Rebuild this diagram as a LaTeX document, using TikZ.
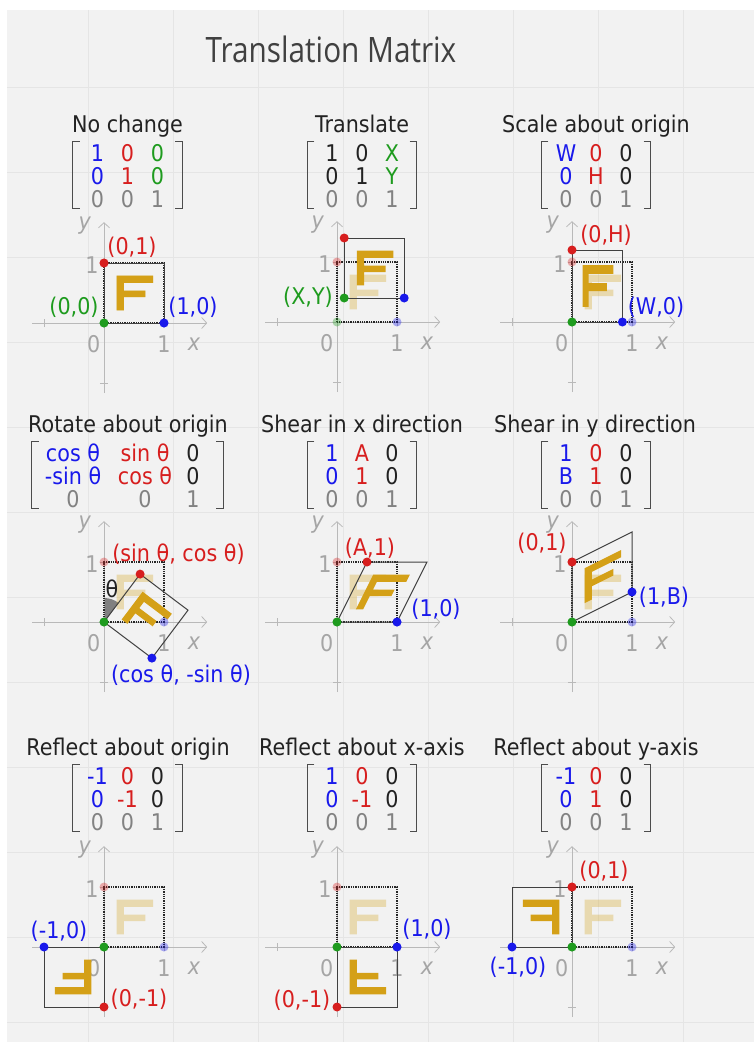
\documentclass[tikz,border=0pt]{standalone}
\usepackage{fontspec}
\setmainfont{DejaVu Sans}[FakeStretch=0.9]
\newfontfamily\headfont{Open Sans}[FakeStretch=0.85]
\usetikzlibrary{matrix,arrows.meta}

\definecolor{BgGray}{RGB}{242,242,242}
\definecolor{GridGray}{RGB}{229,229,229}
\definecolor{AxisGray}{RGB}{185,185,185}
\definecolor{LabelGray}{RGB}{165,165,165}
\definecolor{EntryGray}{RGB}{130,130,130}
\definecolor{InkBlack}{RGB}{34,34,34}
\definecolor{PtRed}{RGB}{215,30,30}
\definecolor{PtGreen}{RGB}{30,155,30}
\definecolor{PtBlue}{RGB}{25,25,235}
\definecolor{FGold}{RGB}{212,160,23}

\newcommand{\panelfont}{\fontsize{23}{27}\selectfont}

\tikzset{
  gridline/.style={draw=GridGray, line width=0.8pt},
  axisline/.style={draw=AxisGray, line width=0.8pt},
  axistip/.style={-{Straight Barb[length=5pt,width=11pt]}},
  axlabel/.style={text=LabelGray, font=\panelfont, inner sep=0pt},
  paneltitle/.style={text=InkBlack, font=\panelfont, anchor=base, inner sep=0pt},
  coordlabel/.style={font=\panelfont, inner sep=0pt},
  origsq/.style={draw=black!85, line width=1.3pt, densely dotted},
  newsq/.style={draw=black!75, line width=1pt},
  bracket/.style={draw=black!70, line width=1pt},
  tmatrix/.style={matrix of nodes, anchor=center, inner sep=0pt, row sep=2pt,
    nodes={font=\panelfont, text=InkBlack, text height=16pt, text depth=5pt,
      inner sep=0pt, minimum width=30pt},
    row 3/.style={nodes={text=EntryGray}}},
  cb/.style={text=PtBlue}, cr/.style={text=PtRed}, cg/.style={text=PtGreen}
}

% the unit square picture: letter F
\newcommand{\Fglyph}[1]{\fill[#1] (0.21,0.21) -- (0.33,0.21) -- (0.33,0.43) -- (0.69,0.43)
  -- (0.69,0.54) -- (0.33,0.54) -- (0.33,0.67) -- (0.82,0.67) -- (0.82,0.79) -- (0.21,0.79) -- cycle;}

% axes, original square and transformed square; #1,#2 origin, #3 transform, #4 name
\newcommand{\tpanel}[4]{%
  \begin{scope}[shift={(#1,#2)}, x=60pt, y=60pt]
    \draw[axisline, axistip] (-1.2,0) -- (1.72,0);
    \draw[axisline, axistip] (0,-1.17) -- (0,1.68);
    \foreach \t in {-1,1} {
      \draw[axisline] (\t,-0.07) -- (\t,0.07);
      \draw[axisline] (-0.07,\t) -- (0.07,\t);
    }
    \node[axlabel] at (-0.17,-0.35) {0};
    \node[axlabel] at (1,-0.35) {1};
    \node[axlabel, font=\panelfont\itshape] at (1.5,-0.35) {x};
    \node[axlabel, font=\panelfont\itshape] at (-0.32,1.62) {y};
    \node[axlabel] at (-0.2,0.97) {1};
    \draw[origsq] (0,0) rectangle (1,1);
    \Fglyph{FGold, fill opacity=0.3}
    \begin{scope}[#3]
      \Fglyph{FGold}
      \draw[newsq] (0,0) -- (1,0) -- (1,1) -- (0,1) -- cycle;
      \coordinate (#4g) at (0,0);
      \coordinate (#4b) at (1,0);
      \coordinate (#4r) at (0,1);
    \end{scope}
    \fill[PtRed, fill opacity=0.35] (0,1) circle (4.5pt);
    \fill[PtGreen, fill opacity=0.35] (0,0) circle (4.5pt);
    \fill[PtBlue, fill opacity=0.35] (1,0) circle (4.5pt);
    \fill[PtRed] (#4r) circle (4.5pt);
    \fill[PtGreen] (#4g) circle (4.5pt);
    \fill[PtBlue] (#4b) circle (4.5pt);
  \end{scope}}

\newcommand{\mbrackets}[1]{%
  \draw[bracket] ([xshift=-2.5pt,yshift=3.5pt]#1.north west) -- ++(-7,0) |- ([xshift=-2.5pt,yshift=4.5pt]#1.south west);
  \draw[bracket] ([xshift=2.5pt,yshift=3.5pt]#1.north east) -- ++(7,0) |- ([xshift=2.5pt,yshift=4.5pt]#1.south east);}

\begin{document}
\begin{tikzpicture}[x=1pt, y=-1pt]
    \useasboundingbox (0,0) rectangle (754,1042);
    \fill[white] (0,0) rectangle (754,1042);
    \fill[BgGray] (7,10) rectangle (754,1042);
    \foreach \gx in {88,173,...,683} \draw[gridline] (\gx,10) -- (\gx,1042);
    \foreach \gy in {87,172,...,1022} \draw[gridline] (7,\gy) -- (754,\gy);

    \node (mainTitle) [text=black!75, font=\headfont\fontsize{35}{40}\selectfont, anchor=base] at (331,62) {Translation Matrix};

    % row 1
    \node (tNoChange) [paneltitle] at (127.5,132) {No change};
    \matrix (mNoChange) [tmatrix] at (127.5,179) {
      |[cb]| 1 & |[cr]| 0 & |[cg]| 0 \\
      |[cb]| 0 & |[cr]| 1 & |[cg]| 0 \\
      0 & 0 & 1 \\};
    \mbrackets{mNoChange}
    \tpanel{104}{323}{}{pA}
    \node (lNoChangeR) [coordlabel, text=PtRed] at (132,247) {(0,1)};
    \node (lNoChangeG) [coordlabel, text=PtGreen] at (74,307) {(0,0)};
    \node (lNoChangeB) [coordlabel, text=PtBlue] at (193,307) {(1,0)};

    \node (tTranslate) [paneltitle] at (362,132) {Translate};
    \matrix (mTranslate) [tmatrix] at (362,179) {
      1 & 0 & |[cg]| X \\
      0 & 1 & |[cg]| Y \\
      0 & 0 & 1 \\};
    \mbrackets{mTranslate}
    \tpanel{337}{322}{shift={(0.12,0.4)}}{pB}
    \node (lTranslateG) [coordlabel, text=PtGreen] at (308,297) {(X,Y)};

    \node (tScale) [paneltitle] at (596,132) {Scale about origin};
    \matrix (mScale) [tmatrix] at (596,179) {
      |[cb]| W & |[cr]| 0 & 0 \\
      |[cb]| 0 & |[cr]| H & 0 \\
      0 & 0 & 1 \\};
    \mbrackets{mScale}
    \tpanel{572}{322}{xscale=0.84, yscale=1.2}{pC}
    \node (lScaleR) [coordlabel, text=PtRed] at (606,235) {(0,H)};
    \node (lScaleB) [coordlabel, text=PtBlue] at (656,307) {(W,0)};

    % row 2
    \node (tRotate) [paneltitle] at (128,432) {Rotate about origin};
    \matrix (mRotate) [tmatrix, column 1/.style={nodes={minimum width=78pt}},
      column 2/.style={nodes={minimum width=66pt}}] at (121,479) {
      |[cb]| cos θ & |[cr]| sin θ & 0 \\
      |[cb]| -sin θ & |[cr]| cos θ & 0 \\
      0 & 0 & 1 \\};
    \draw[bracket] ([xshift=5pt,yshift=3.5pt]mRotate.north west) -- ++(-7,0) |- ([xshift=5pt,yshift=4.5pt]mRotate.south west);
    \draw[bracket] ([xshift=8pt,yshift=3.5pt]mRotate.north east) -- ++(7,0) |- ([xshift=8pt,yshift=4.5pt]mRotate.south east);
    \begin{scope}[shift={(104,622)}, x=60pt, y=60pt]
      \fill[black!50] (0,0) -- (0,0.4) arc[start angle=90, end angle=53, radius=0.4] -- cycle;
    \end{scope}
    \tpanel{104}{622}{rotate=-37}{pD}
    \node (lRotateT) [coordlabel, text=InkBlack] at (112,589) {θ};
    \node (lRotateR) [coordlabel, text=PtRed] at (178.5,554) {(sin θ, cos θ)};
    \node (lRotateB) [coordlabel, text=PtBlue] at (181,675) {(cos θ, -sin θ)};

    \node (tShearX) [paneltitle] at (362,432) {Shear in x direction};
    \matrix (mShearX) [tmatrix] at (362,479) {
      |[cb]| 1 & |[cr]| A & 0 \\
      |[cb]| 0 & |[cr]| 1 & 0 \\
      0 & 0 & 1 \\};
    \mbrackets{mShearX}
    \tpanel{337}{622}{xslant=0.5}{pE}
    \node (lShearXR) [coordlabel, text=PtRed] at (370,548) {(A,1)};
    \node (lShearXB) [coordlabel, text=PtBlue] at (436,609) {(1,0)};

    \node (tShearY) [paneltitle] at (595,432) {Shear in y direction};
    \matrix (mShearY) [tmatrix] at (596,479) {
      |[cb]| 1 & |[cr]| 0 & 0 \\
      |[cb]| B & |[cr]| 1 & 0 \\
      0 & 0 & 1 \\};
    \mbrackets{mShearY}
    \tpanel{572}{622}{yslant=0.5}{pF}
    \node (lShearYR) [coordlabel, text=PtRed] at (542,543) {(0,1)};
    \node (lShearYB) [coordlabel, text=PtBlue] at (664,597) {(1,B)};

    % row 3
    \node (tReflectO) [paneltitle] at (128,755) {Reflect about origin};
    \matrix (mReflectO) [tmatrix] at (127.5,802) {
      |[cb]| -1 & |[cr]| 0 & 0 \\
      |[cb]| 0 & |[cr]| -1 & 0 \\
      0 & 0 & 1 \\};
    \mbrackets{mReflectO}
    \tpanel{104}{947}{scale=-1}{pG}
    \node (lReflectOB) [coordlabel, text=PtBlue] at (59,931) {(-1,0)};
    \node (lReflectOR) [coordlabel, text=PtRed] at (139,999) {(0,-1)};

    \node (tReflectX) [paneltitle] at (362,755) {Reflect about x-axis};
    \matrix (mReflectX) [tmatrix] at (362,802) {
      |[cb]| 1 & |[cr]| 0 & 0 \\
      |[cb]| 0 & |[cr]| -1 & 0 \\
      0 & 0 & 1 \\};
    \mbrackets{mReflectX}
    \tpanel{337}{947}{yscale=-1}{pH}
    \node (lReflectXB) [coordlabel, text=PtBlue] at (427,929) {(1,0)};
    \node (lReflectXR) [coordlabel, text=PtRed] at (302,1000) {(0,-1)};

    \node (tReflectY) [paneltitle] at (596,755) {Reflect about y-axis};
    \matrix (mReflectY) [tmatrix] at (596,802) {
      |[cb]| -1 & |[cr]| 0 & 0 \\
      |[cb]| 0 & |[cr]| 1 & 0 \\
      0 & 0 & 1 \\};
    \mbrackets{mReflectY}
    \tpanel{572}{947}{xscale=-1}{pI}
    \node (lReflectYR) [coordlabel, text=PtRed] at (604,871) {(0,1)};
    \node (lReflectYB) [coordlabel, text=PtBlue] at (518,967) {(-1,0)};
\end{tikzpicture}
\end{document}
